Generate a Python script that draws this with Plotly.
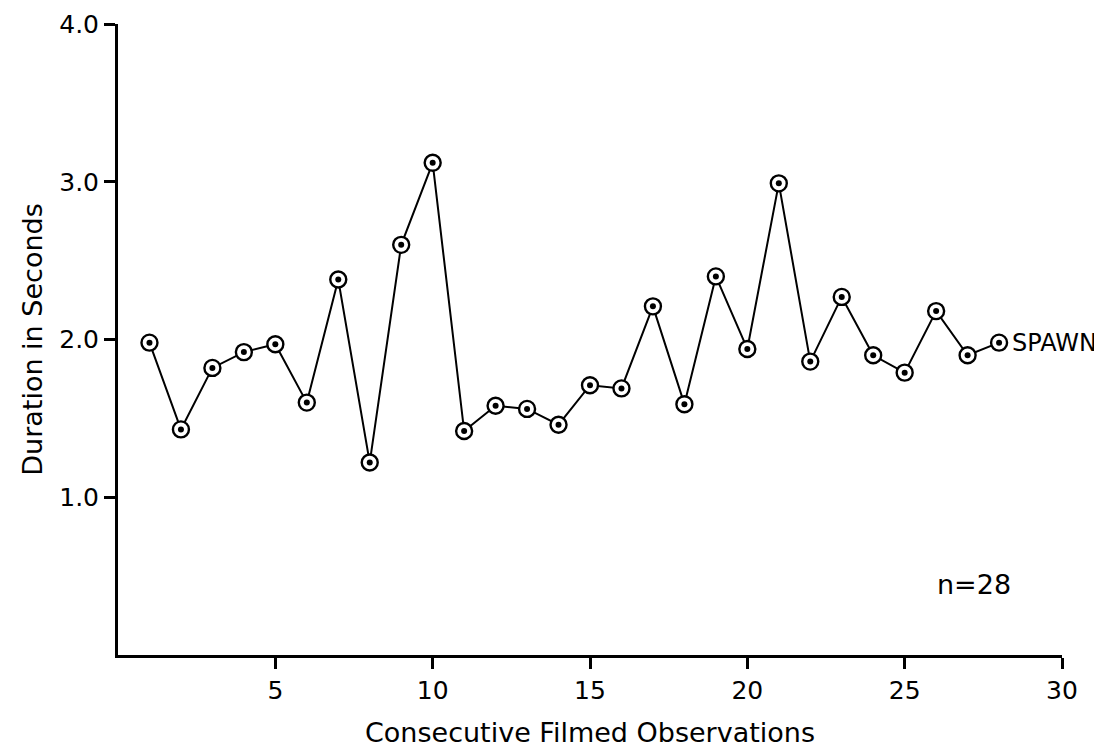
import plotly.graph_objects as go

observations = list(range(1, 29))
durations = [1.98, 1.43, 1.82, 1.92, 1.97, 1.60, 2.38, 1.22, 2.60, 3.12,
             1.42, 1.58, 1.56, 1.46, 1.71, 1.69, 2.21, 1.59, 2.40, 1.94,
             2.99, 1.86, 2.27, 1.90, 1.79, 2.18, 1.90, 1.98]
x_ticks = [5, 10, 15, 20, 25, 30]
y_ticks = [1, 2, 3, 4]
y_tick_text = ["1.0", "2.0", "3.0", "4.0"]

FONT = "DejaVu Sans"

fig = go.Figure()
fig.add_trace(go.Scatter(
    x=observations, y=durations, mode="lines+markers",
    line=dict(color="black", width=2),
    marker=dict(symbol="circle", size=16, color="white",
                line=dict(color="black", width=2.4)),
    showlegend=False, hoverinfo="skip", cliponaxis=False))
fig.add_trace(go.Scatter(
    x=observations, y=durations, mode="markers",
    marker=dict(symbol="circle", size=6, color="black"),
    showlegend=False, hoverinfo="skip", cliponaxis=False))

fig.add_annotation(x=observations[-1], y=durations[-1], text="SPAWN",
                   showarrow=False, xanchor="left", xshift=11,
                   font=dict(family=FONT, size=24, color="black"))
fig.add_annotation(x=27.2, y=0.45, text="n=28", showarrow=False,
                   font=dict(family=FONT, size=27, color="black"))

fig.update_layout(
    width=1102, height=756,
    margin=dict(l=110, r=48, t=16, b=109, autoexpand=False),
    paper_bgcolor="white", plot_bgcolor="white",
    font=dict(family=FONT, color="black"),
)
fig.update_xaxes(
    range=[0, 30], tickvals=x_ticks, ticktext=[str(v) for v in x_ticks],
    showgrid=False, zeroline=False, showline=True, linecolor="black", linewidth=3,
    ticks="outside", ticklen=11, tickwidth=3, tickcolor="black",
    tickfont=dict(family=FONT, size=25), ticklabeloverflow="allow",
    automargin=False,
    title=dict(text="Consecutive Filmed Observations",
               font=dict(family=FONT, size=27), standoff=20),
)
fig.update_yaxes(
    range=[0, 4], tickvals=y_ticks, ticktext=y_tick_text,
    showgrid=False, zeroline=False, showline=True, linecolor="black", linewidth=3,
    ticks="outside", ticklen=11, tickwidth=3, tickcolor="black",
    tickfont=dict(family=FONT, size=25), ticklabeloverflow="allow",
    automargin=False,
    title=dict(text="Duration in Seconds",
               font=dict(family=FONT, size=27), standoff=9),
)

fig.write_html("out.html")
